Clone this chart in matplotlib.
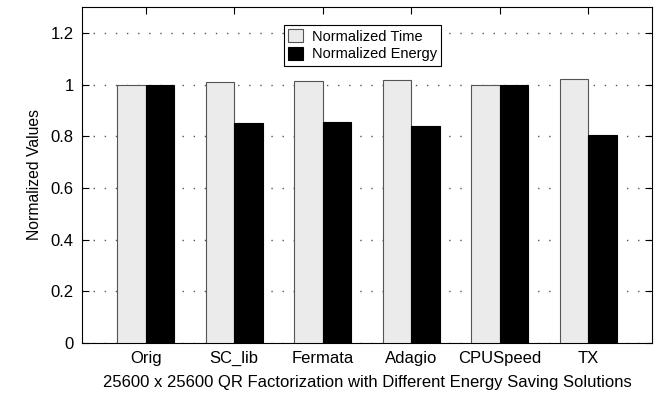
import matplotlib
matplotlib.use('Agg')
import matplotlib.pyplot as plt
import numpy as np

plt.rcParams['font.family'] = ['Liberation Sans', 'DejaVu Sans']

categories = ['Orig', 'SC_lib', 'Fermata', 'Adagio', 'CPUSpeed', 'TX']
norm_time = [1.0, 1.009, 1.014, 1.018, 1.0, 1.023]
norm_energy = [1.0, 0.853, 0.855, 0.838, 1.0, 0.804]
yticks = [0, 0.2, 0.4, 0.6, 0.8, 1, 1.2]
ytick_labels = ['0', '0.2', '0.4', '0.6', '0.8', '1', '1.2']

fig = plt.figure(figsize=(6.62, 3.99), dpi=100)
ax = fig.add_axes([82 / 662, 1 - 343 / 399, (652 - 82) / 662, (343 - 7) / 399])

x = np.arange(len(categories))
w = 0.32
ax.bar(x - w / 2, norm_time, w, color='#ebebeb', edgecolor='#555555', linewidth=0.8,
       label='Normalized Time', zorder=3)
ax.bar(x + w / 2, norm_energy, w, color='black', edgecolor='black', linewidth=0.8,
       label='Normalized Energy', zorder=3)

ax.set_xlim(-0.72, 5.72)
ax.set_ylim(0, 1.3)
ax.set_yticks(yticks)
ax.set_yticklabels(ytick_labels)
ax.set_xticks(x)
ax.set_xticklabels(categories)
ax.yaxis.grid(True, linestyle=(0, (1, 7)), color='#555555', linewidth=1.0)
ax.tick_params(axis='both', direction='in', labelsize=12, length=5, width=0.8)
ax.tick_params(axis='x', top=True, bottom=False, pad=6)
ax.tick_params(axis='y', right=True, pad=6)
for s in ax.spines.values():
    s.set_linewidth(0.8)

ax.set_ylabel('Normalized Values', fontsize=11.3, labelpad=6)
ax.set_xlabel('25600 x 25600 QR Factorization with Different Energy Saving Solutions',
              fontsize=12, labelpad=6)

leg = ax.legend(loc='upper left', bbox_to_anchor=((284 - 82) / 570, 1 - 18 / 336),
                fancybox=False, framealpha=1, edgecolor='black', fontsize=10.5,
                borderaxespad=0, handlelength=1.0, handleheight=1.0,
                handletextpad=0.6, borderpad=0.3, labelspacing=0.2)
leg.get_frame().set_linewidth(0.8)

fig.savefig('out.png', dpi=100)
